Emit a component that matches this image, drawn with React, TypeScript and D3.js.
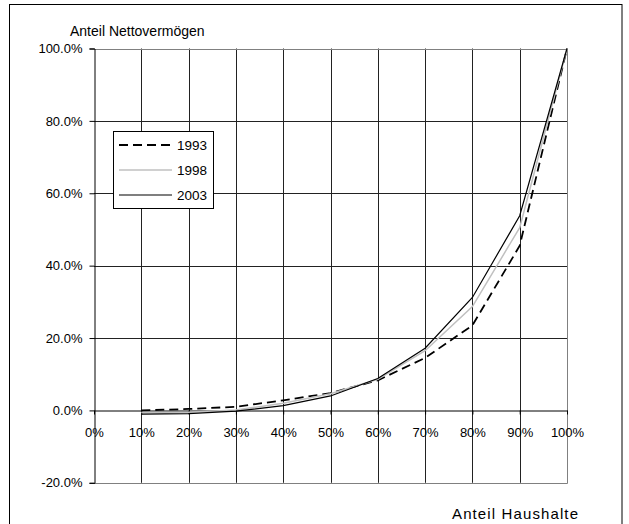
import React, { useEffect, useRef } from "react";
import * as d3 from "d3";

// Anteil Haushalte (deciles) and cumulative share of net wealth, in %
const deciles = [10, 20, 30, 40, 50, 60, 70, 80, 90, 100];
const share1993 = [0.0, 0.4, 1.0, 2.8, 4.8, 8.3, 14.5, 23.5, 45.5, 100];
const share1998 = [-0.6, -0.5, 0.1, 2.0, 4.6, 8.6, 16.5, 28.7, 50.5, 100];
const share2003 = [-1.0, -0.9, -0.2, 1.3, 4.0, 8.8, 17.2, 31.2, 53.8, 100];
const xTicks = [0, 10, 20, 30, 40, 50, 60, 70, 80, 90, 100];
const yTicks = [-20, 0, 20, 40, 60, 80, 100];

const series = [
  { name: "1993", values: share1993, color: "#000", width: 1.8, dash: "9,5" },
  { name: "1998", values: share1998, color: "#c0c0c0", width: 1.5, dash: null },
  { name: "2003", values: share2003, color: "#000", width: 1.2, dash: null },
];

const W = 629;
const H = 524;

const App = () => {
  const ref = useRef(null);

  useEffect(() => {
    const svg = d3.select(ref.current);
    svg.selectAll("*").remove();
    svg.attr("width", W).attr("height", H);

    const font = "'Liberation Sans', Arial, sans-serif";

    const x = d3.scaleLinear().domain([0, 100]).range([94, 567]);
    const y = d3.scaleLinear().domain([-20, 100]).range([482.8, 48.5]);
    const px = (v) => Math.round(v) + 0.5;

    // outer chart frame
    svg
      .append("rect")
      .attr("x", 9.5)
      .attr("y", 4.5)
      .attr("width", 612.5)
      .attr("height", 540)
      .attr("fill", "#fff")
      .attr("stroke", "#000");

    // horizontal gridlines
    svg
      .append("g")
      .selectAll("line")
      .data([20, 40, 60, 80])
      .join("line")
      .attr("x1", x(0))
      .attr("x2", x(100))
      .attr("y1", (d) => px(y(d)))
      .attr("y2", (d) => px(y(d)))
      .attr("stroke", "#222");

    // vertical gridlines
    svg
      .append("g")
      .selectAll("line")
      .data(xTicks.slice(1, -1))
      .join("line")
      .attr("x1", (d) => px(x(d)))
      .attr("x2", (d) => px(x(d)))
      .attr("y1", y(100))
      .attr("y2", y(-20))
      .attr("stroke", "#222");

    // plot border (gray)
    svg
      .append("path")
      .attr(
        "d",
        `M${px(x(0))},${px(y(100))}H${px(x(100))}V${px(y(-20))}H${px(x(0))}`
      )
      .attr("fill", "none")
      .attr("stroke", "#808080");

    // y axis
    const yAxis = svg
      .append("g")
      .attr("transform", `translate(${px(x(0))},0)`)
      .call(
        d3
          .axisLeft(y)
          .tickValues(yTicks)
          .tickSize(5)
          .tickPadding(7)
          .tickFormat((d) => d.toFixed(1) + "%")
      );
    yAxis.select(".domain").attr("stroke", "#000");
    yAxis.selectAll(".tick line").attr("stroke", "#000");
    yAxis
      .selectAll(".tick text")
      .attr("font-family", font)
      .attr("font-size", 13)
      .attr("fill", "#000");

    // x axis at 0%
    const xAxis = svg
      .append("g")
      .attr("transform", `translate(0,${px(y(0))})`)
      .call(
        d3
          .axisBottom(x)
          .tickValues(xTicks)
          .tickSize(4)
          .tickSizeOuter(0)
          .tickPadding(13)
          .tickFormat((d) => d + "%")
      );
    xAxis.select(".domain").attr("stroke", "#000");
    xAxis.selectAll(".tick line").attr("stroke", "#000");
    xAxis
      .selectAll(".tick text")
      .attr("font-family", font)
      .attr("font-size", 13)
      .attr("fill", "#000");

    // lines
    const line = d3
      .line()
      .x((d) => x(d[0]))
      .y((d) => y(d[1]));

    series.forEach((s) => {
      svg
        .append("path")
        .datum(deciles.map((p, i) => [p, s.values[i]]))
        .attr("d", line)
        .attr("fill", "none")
        .attr("stroke", s.color)
        .attr("stroke-width", s.width)
        .attr("stroke-dasharray", s.dash);
    });

    // legend
    const lg = svg.append("g");
    lg.append("rect")
      .attr("x", 113.5)
      .attr("y", 131.5)
      .attr("width", 100)
      .attr("height", 77)
      .attr("fill", "#fff")
      .attr("stroke", "#000");
    series.forEach((s, i) => {
      const ly = 145 + i * 25;
      lg.append("line")
        .attr("x1", 119)
        .attr("x2", 172)
        .attr("y1", ly)
        .attr("y2", ly)
        .attr("stroke", s.color)
        .attr("stroke-width", s.width)
        .attr("stroke-dasharray", s.dash);
      lg.append("text")
        .attr("x", 177)
        .attr("y", ly)
        .attr("dy", "0.36em")
        .attr("font-family", font)
        .attr("font-size", 13.5)
        .text(s.name);
    });

    // axis titles
    svg
      .append("text")
      .attr("x", 70)
      .attr("y", 36)
      .attr("font-family", font)
      .attr("font-size", 14)
      .text("Anteil Nettovermögen");
    svg
      .append("text")
      .attr("x", 452)
      .attr("y", 519)
      .attr("font-family", font)
      .attr("font-size", 15)
      .attr("textLength", 126)
      .attr("lengthAdjust", "spacing")
      .text("Anteil Haushalte");
  }, []);

  return (
    <div style={{ position: "absolute", left: 0, top: 0 }}>
      <svg ref={ref} style={{ display: "block" }}></svg>
    </div>
  );
};

export default App;
